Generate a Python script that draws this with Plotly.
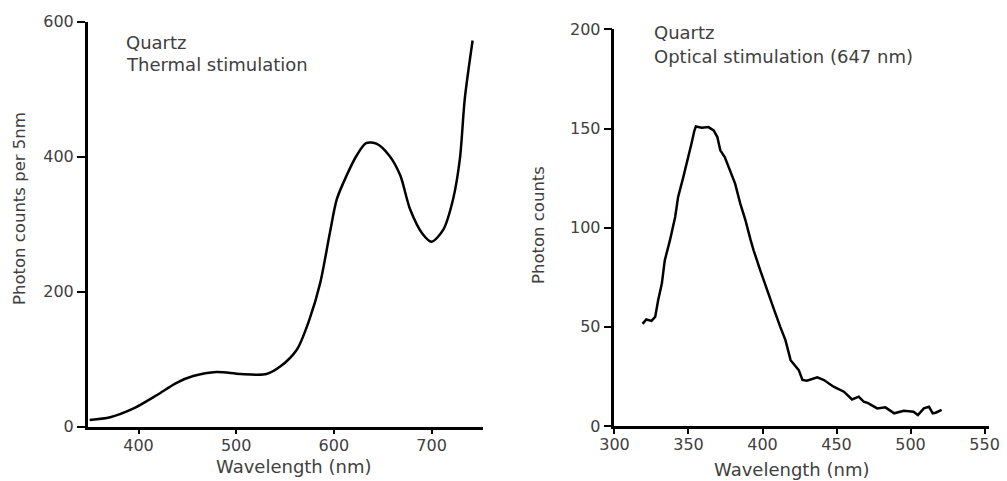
import plotly.graph_objects as go

# Left panel: thermal stimulation
thermal_wl = [350, 371, 395, 419, 439, 456, 480, 504, 531, 545, 562, 575, 586, 596, 603,
              613, 623, 633, 644, 657, 668, 678, 691, 700, 712, 722, 729, 734, 742]
thermal_counts = [10, 14, 27, 47, 65, 75, 81, 78, 78, 89, 114, 159, 213, 288, 337,
                  372, 401, 420, 419, 401, 372, 322, 285, 274, 292, 337, 397, 486, 572]

# Right panel: optical stimulation (647 nm)
optical_wl = [319, 321.5, 325, 327.5, 329.5, 332, 334, 337.5, 341, 343, 346.5, 350, 352, 354,
              355, 359, 363.5, 367, 369.5, 370.5, 371.5, 374.5, 378, 381.5, 385, 388.5, 392,
              394, 398.5, 403, 407.5, 412, 415.5, 419, 424.5, 427, 430, 437, 441.5, 448, 455,
              460.5, 465, 468.5, 471, 477.5, 483, 489, 495.5, 502, 505, 509, 512.5, 515, 517, 521]
optical_counts = [51.5, 53.7, 53, 55, 63.4, 71.8, 83.6, 93.7, 105.4, 115.5, 125.5, 135.6, 142.3,
                  149, 151, 150.4, 150.7, 149, 145.7, 142.3, 139, 135.6, 128.9, 122.2, 112.1,
                  103.7, 93.7, 88.6, 78.5, 68.5, 59.3, 50, 43.3, 33.2, 28.2, 23.2, 22.8, 24.5,
                  23.2, 19.8, 17.3, 13.4, 14.8, 12.2, 11.7, 8.9, 9.4, 6.4, 7.7, 7.2, 5.5, 8.9,
                  9.7, 6.4, 6.7, 8.1]

left_xticks = [400, 500, 600, 700]
left_yticks = [0, 200, 400, 600]
right_xticks = [300, 350, 400, 450, 500, 550]
right_yticks = [0, 50, 100, 150, 200]

FONT = "DejaVu Sans"
TXT = "#404040"
H = 481.0
W = 1007.0

def py(p):
    return 1 - p / H

def px(p):
    return p / W

fig = go.Figure()
fig.add_trace(go.Scatter(x=thermal_wl, y=thermal_counts, mode="lines",
                         line=dict(color="black", width=2.5, shape="spline", smoothing=0.8),
                         xaxis="x", yaxis="y", showlegend=False))
fig.add_trace(go.Scatter(x=optical_wl, y=optical_counts, mode="lines",
                         line=dict(color="black", width=2.5),
                         xaxis="x2", yaxis="y2", showlegend=False))

axis_common = dict(showline=True, linecolor="black", linewidth=2.5, ticks="outside",
                   tickwidth=1.5, tickcolor="black", showgrid=False, automargin=False,
                   zeroline=False, tickfont=dict(family=FONT, size=16, color=TXT))

fig.update_layout(
    template="none",
    width=1007, height=481,
    margin=dict(l=0, r=0, t=0, b=0),
    paper_bgcolor="white", plot_bgcolor="white",
    font=dict(family=FONT, color=TXT),
    xaxis=dict(domain=[0.0871, 0.480], range=[348, 753], tickvals=left_xticks,
               anchor="y", ticklen=5, ticklabelstandoff=-3, **axis_common),
    yaxis=dict(domain=[0.1129, 0.955], range=[0, 600], tickvals=left_yticks,
               anchor="x", ticklen=8, **axis_common),
    xaxis2=dict(domain=[0.6102, 0.9821], range=[300, 553], tickvals=right_xticks,
                anchor="y2", ticklen=5, ticklabelstandoff=-3, **axis_common),
    yaxis2=dict(domain=[0.1143, 0.939], range=[0, 200], tickvals=right_yticks,
                anchor="x2", ticklen=8, **axis_common),
    annotations=[
        # axis titles
        dict(text="Wavelength (nm)", x=px(294), y=py(466), xref="paper", yref="paper",
             xanchor="center", yanchor="middle", showarrow=False,
             font=dict(family=FONT, size=18, color=TXT)),
        dict(text="Photon counts per 5nm", x=px(20), y=py(209), xref="paper", yref="paper",
             xanchor="center", yanchor="middle", showarrow=False, textangle=-90,
             font=dict(family=FONT, size=16.5, color=TXT)),
        dict(text="Wavelength (nm)", x=px(792), y=py(469), xref="paper", yref="paper",
             xanchor="center", yanchor="middle", showarrow=False,
             font=dict(family=FONT, size=18, color=TXT)),
        dict(text="Photon counts", x=px(538), y=py(225), xref="paper", yref="paper",
             xanchor="center", yanchor="middle", showarrow=False, textangle=-90,
             font=dict(family=FONT, size=16.5, color=TXT)),
        # panel labels
        dict(text="Quartz", x=px(124), y=py(42), xref="paper", yref="paper",
             xanchor="left", yanchor="middle", showarrow=False,
             font=dict(family=FONT, size=18, color=TXT)),
        dict(text="Thermal stimulation", x=px(124), y=py(65), xref="paper", yref="paper",
             xanchor="left", yanchor="middle", showarrow=False,
             font=dict(family=FONT, size=18, color=TXT)),
        dict(text="Quartz", x=px(652), y=py(33), xref="paper", yref="paper",
             xanchor="left", yanchor="middle", showarrow=False,
             font=dict(family=FONT, size=18, color=TXT)),
        dict(text="Optical stimulation (647 nm)", x=px(652), y=py(57), xref="paper", yref="paper",
             xanchor="left", yanchor="middle", showarrow=False,
             font=dict(family=FONT, size=18, color=TXT)),
    ],
)

fig.write_html("out.html")
